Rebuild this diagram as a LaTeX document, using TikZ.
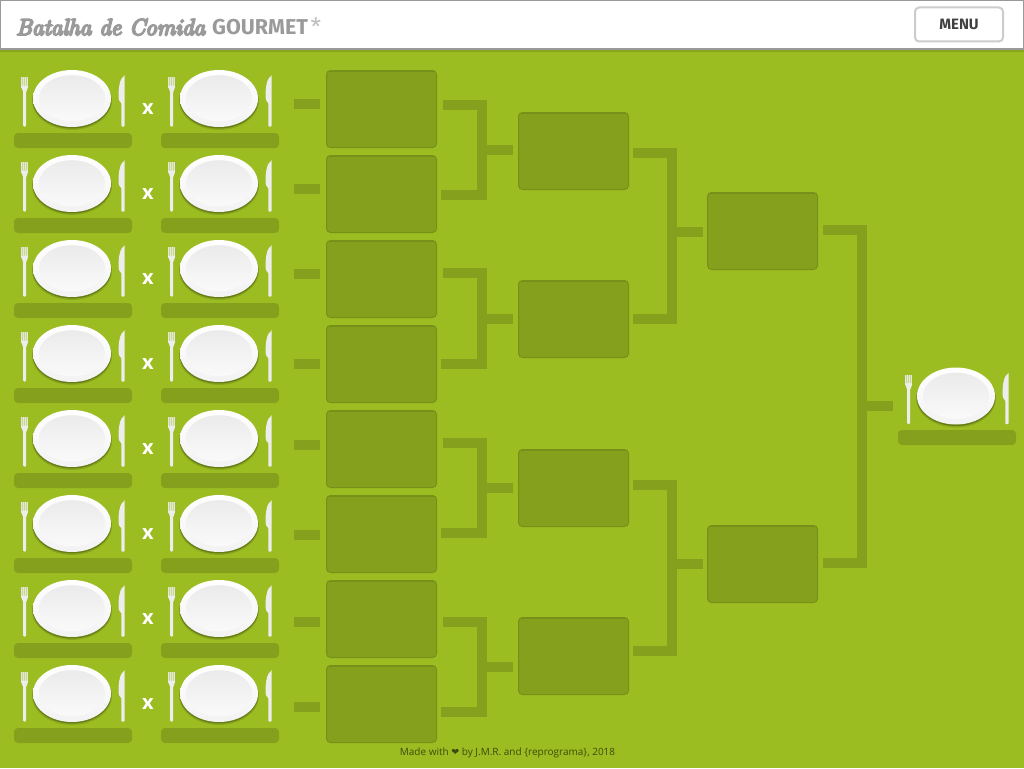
\documentclass[tikz,border=0pt]{standalone}
\usepackage{xcolor}
\usepackage{fontspec}
\usepackage{tikz}
\usetikzlibrary{shapes.geometric,positioning}
\newfontfamily\footfont{Open Sans}
\newfontfamily\labelfont{Fira Sans}
\newfontfamily\heartfont{DejaVu Sans}
\newfontfamily\titlefont[FakeBold=8]{Latin Modern Roman}
\definecolor{pitch}{HTML}{9BBD21}
\definecolor{slot}{HTML}{84A01C}
\definecolor{slotedge}{HTML}{76911A}
\definecolor{titlegray}{HTML}{9A9A9A}
\tikzset{
    setting/.pic={
        \fill[black!60!pitch, opacity=0.2] (0,2.4) ellipse (40 and 29);
        \fill[black!60!pitch, opacity=0.45] (0,1.5) ellipse (39.3 and 28.5);
        \node[platerim] (-plate) at (0,0) {};
        \node[plateface] (-face) at (0,-0.3) {};
        % fork
        \fill[white, opacity=0.45] (-50.8,-21.5) rectangle (-43.8,-11);
        \foreach \t in {-2.9,-1,1,2.9}
            \draw[white!90!black, line width=1.2] (-47.3+\t,-21.5) -- (-47.3+\t,-11);
        \fill[white!93!black, rounded corners=1] (-50.8,-13) .. controls (-50.8,-9) and (-48.8,-8.5) .. (-48.8,-5.5)
            -- (-48.8,28) -- (-45.8,28) -- (-45.8,-5.5)
            .. controls (-45.8,-8.5) and (-43.8,-9) .. (-43.8,-13) -- cycle;
        % knife
        \fill[white!93!black, rounded corners=0.8] (52.6,-22.5) -- (52.6,28) -- (49.4,28) -- (49.4,4.5)
            .. controls (46.2,2) and (46.4,-2) .. (46.6,-6)
            .. controls (47,-15) and (49,-21) .. (52.6,-22.5) -- cycle;
    }
}
\begin{document}
\begin{tikzpicture}[
    x=1pt, y=-1pt,
    platerim/.style={ellipse, draw=none, minimum width=78, minimum height=57, inner sep=0, top color=white, bottom color=white!95!black},
    plateface/.style={ellipse, draw=none, minimum width=66, minimum height=46, inner sep=0, top color=white!92!black, bottom color=white!98!black},
    slotbox/.style={rectangle, rounded corners=4, draw=slotedge, line width=1, fill=slot, minimum width=110, minimum height=77, inner sep=0,
        path picture={\draw[slotedge, line width=2] (path picture bounding box.north west) -- (path picture bounding box.north east);}},
    namebar/.style={rectangle, rounded corners=4, fill=slot, minimum width=118, minimum height=15, inner sep=0},
    link/.style={draw=slot, line width=10, line cap=butt, line join=miter},
    versus/.style={text=white, inner sep=0, font=\footfont\bfseries\fontsize{20}{20}\selectfont}
]
    \useasboundingbox (0,0) rectangle (1024,768);
    \fill[pitch] (0,0) rectangle (1024,768);

    % Header
    \fill[black!12!pitch] (0,49) rectangle (1024,52);
    \node[rectangle, draw=black!40, line width=1.5, fill=white, minimum width=1023, minimum height=48.5, inner sep=0] (header) at (512,24.7) {};
    \node[anchor=base west, inner sep=0, text=titlegray, font=\titlefont\itshape\fontsize{23}{23}\selectfont] (title) at (16,35) {Batalha de Comida};
    \node[anchor=base west, inner sep=0, text=titlegray, font=\labelfont\bfseries\fontsize{21.5}{21.5}\selectfont] (gourmet) at (212,35) {GOURMET};
    \node[anchor=base west, inner sep=0, text=black!25, font=\labelfont\fontsize{24}{24}\selectfont] (star) at (310.5,36) {*};
    \node[rectangle, rounded corners=4, draw=black!20, line width=2, fill=white, minimum width=88, minimum height=34, inner sep=0, text=black!75, font=\labelfont\bfseries\fontsize{15}{15}\selectfont] (menu) at (959,24.5) {MENU};

    % Place settings, first round slots
    \foreach \n/\y/\d in {1/98.5/104, 2/183.5/189, 3/268.5/274, 4/353.5/364, 5/438.5/445, 6/523.5/535, 7/608.5/622, 8/693.5/707} {
        \pic (left\n) at (72,\y) {setting};
        \pic (right\n) at (219,\y) {setting};
        \node[namebar] (leftbar\n) at (73,\y+42) {};
        \node[namebar] (rightbar\n) at (220,\y+42) {};
        \node[versus] (versus\n) at (148,\y+11) {x};
        \node[slotbox] (first\n) at (381.5,\y+10.5) {};
        \coordinate (dash\n) at (294,\d);
        \draw[link, shorten >=6] (dash\n) -- (dash\n -| first\n.west);
    }

    % Second round
    \node[slotbox] (second1) at (573.5,151) {};
    \node[slotbox] (second2) at (573.5,319) {};
    \node[slotbox] (second3) at (573.5,488) {};
    \node[slotbox] (second4) at (573.5,656) {};

    % Third round
    \node[slotbox] (third1) at (762.5,231) {};
    \node[slotbox] (third2) at (762.5,564) {};

    % Winner
    \pic (winner) at (956,396) {setting};
    \node[namebar] (winnerbar) at (957,437.5) {};

    % Brackets into second round
    \foreach \a/\b/\top/\bot/\out/\s in {1/2/105/195/150/second1, 3/4/273/364/319/second2, 5/6/443/533/488/second3, 7/8/622/712/667/second4} {
        \coordinate (topend) at ([xshift=6]first\a.east |- 0,\top);
        \coordinate (botend) at ([xshift=4]first\b.east |- 0,\bot);
        \coordinate (joint) at (482,\out);
        \draw[link] (topend) -| (joint) |- (botend);
        \draw[link, shorten >=5] (joint) -- (joint -| \s.west);
    }

    % Brackets into third round
    \foreach \a/\b/\top/\bot/\out/\s in {1/2/153/319/232/third1, 3/4/485/651/564/third2} {
        \coordinate (topend) at ([xshift=4]second\a.east |- 0,\top);
        \coordinate (botend) at ([xshift=4]second\b.east |- 0,\bot);
        \coordinate (joint) at (672,\out);
        \draw[link] (topend) -| (joint) |- (botend);
        \draw[link, shorten >=4] (joint) -- (joint -| \s.west);
    }

    % Bracket into winner
    \coordinate (topend) at ([xshift=5]third1.east |- 0,230);
    \coordinate (botend) at ([xshift=5]third2.east |- 0,563);
    \coordinate (joint) at (862,406);
    \draw[link] (topend) -| (joint) |- (botend);
    \draw[link, shorten >=24] (joint) -- (joint -| winner-plate.west);

    % Footer
    \node[anchor=base, inner sep=0, text=black!60!pitch, font=\footfont\fontsize{10}{12}\selectfont] (footer) at (507.5,755) {Made with {\heartfont\fontsize{9.5}{12}\selectfont ❤} by J.M.R. and \{reprograma\}, 2018};
\end{tikzpicture}
\end{document}
